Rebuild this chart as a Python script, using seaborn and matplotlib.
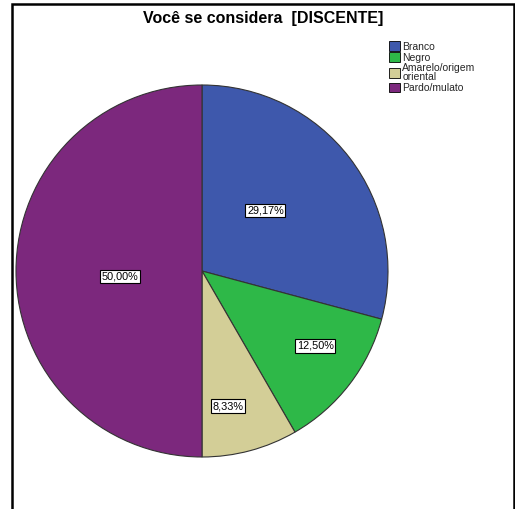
import matplotlib
matplotlib.use("Agg")
import matplotlib.pyplot as plt
from matplotlib.patches import Patch, Rectangle
import seaborn as sns
import numpy as np

categories = ["Branco", "Negro", "Amarelo/origem\noriental", "Pardo/mulato"]
percentages = [29.17, 12.50, 8.33, 50.00]
label_texts = ["29,17%", "12,50%", "8,33%", "50,00%"]
colors_hex = ["#3E58AC", "#2EB848", "#D3CE97", "#7C287D"]
title = "Você se considera  [DISCENTE]"

sns.set_theme(style="white")
plt.rcParams["font.family"] = ["Liberation Sans", "DejaVu Sans"]

palette = sns.color_palette(colors_hex)

W, H = 515, 509
fig = plt.figure(figsize=(W / 100, H / 100), dpi=100)
fig.patch.set_facecolor("white")

# outer frame (open at the bottom)
fig.add_artist(Rectangle((11.5 / W, -0.05), (514 - 11.5) / W, 1.05 - 3.5 / H,
                         transform=fig.transFigure, fill=False,
                         edgecolor="black", linewidth=1.8))

fig.text(263 / W, 1 - 18 / H, title, ha="center", va="center",
         fontsize=11.5, fontweight="bold", color="black")

# pie axes: centre (202, 271) px, radius 186 px
cx, cy, r = 202, 271, 186
ax = fig.add_axes([(cx - r) / W, 1 - (cy + r) / H, 2 * r / W, 2 * r / H])
wedges, _ = ax.pie(percentages, colors=palette, startangle=90, counterclock=False,
                   radius=1.0, wedgeprops=dict(edgecolor="#333333", linewidth=0.8))
ax.set_xlim(-1, 1)
ax.set_ylim(-1, 1)
ax.set_aspect("equal")
ax.axis("off")

# percentage labels in white boxes
label_radius = [0.47, 0.73, 0.74, 0.44]
angle_shift = [6, 4, -4, 4]
for w, txt, rr, sh in zip(wedges, label_texts, label_radius, angle_shift):
    mid = np.deg2rad((w.theta1 + w.theta2) / 2 + sh)
    ax.text(rr * np.cos(mid), rr * np.sin(mid), txt, ha="center", va="center",
            fontsize=7.8, color="black",
            bbox=dict(boxstyle="square,pad=0.15", facecolor="white",
                      edgecolor="black", linewidth=0.8))

handles = [Patch(facecolor=c, edgecolor="black", linewidth=0.6) for c in palette]
leg = fig.legend(handles, categories, loc="upper left",
                 bbox_to_anchor=(382 / W, 1 - 34 / H), frameon=False,
                 fontsize=7.5, handlelength=1.05, handleheight=1.05,
                 handletextpad=0.2, labelspacing=0.05, borderpad=0.2)
for t in leg.get_texts():
    t.set_linespacing(0.9)

fig.savefig("out.png", dpi=100, facecolor="white")
